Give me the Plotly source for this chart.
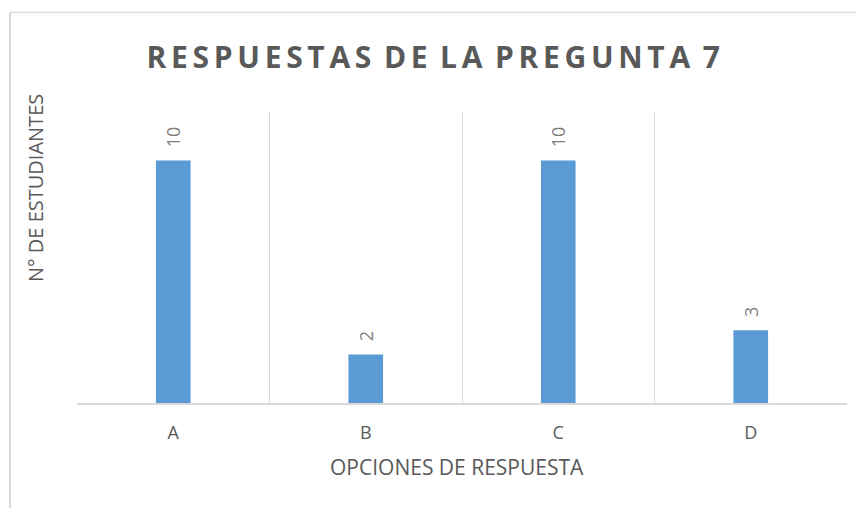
import plotly.graph_objects as go

categories = ["A", "B", "C", "D"]
values = [10, 2, 10, 3]
title_text = "RESPUESTAS DE LA PREGUNTA 7"
y_title = "N° DE ESTUDIANTES"
x_title = "OPCIONES DE RESPUESTA"

# The page body adds an 8px offset, so figure coords = reference coords - 8
OFF = 8
W, H = 864, 508
L, R, T, B = 69, 25, 104, 113
pw = W - L - R
ph = H - T - B

def px_x(x):
    return (x - OFF - L) / pw

def px_y(y):
    return (H - B - (y - OFF)) / ph

fig = go.Figure(go.Bar(
    x=categories, y=values,
    marker=dict(color="#5B9BD5", line=dict(width=0)),
    hoverinfo="skip",
))

annotations = []
for c, v in zip(categories, values):
    annotations.append(dict(
        text=str(v), x=c, y=v, xref="x", yref="y",
        textangle=-90, showarrow=False, xanchor="center", yanchor="bottom",
        yshift=11,
        font=dict(family="Open Sans", size=18, color="#7F7F7F"),
    ))

annotations += [
    dict(text=y_title, x=px_x(35), y=px_y(188), xref="paper", yref="paper",
         textangle=-90, showarrow=False, xanchor="center", yanchor="middle",
         font=dict(family="Open Sans", size=20, color="#595959")),
    dict(text=x_title, x=px_x(457), y=px_y(467), xref="paper", yref="paper",
         showarrow=False, xanchor="center", yanchor="middle",
         font=dict(family="Open Sans", size=21, color="#595959")),
]

styled_title = " ".join(
    '<span style="letter-spacing:4.7px">' + w + '</span>' for w in title_text.split(" ")
)

fig.update_layout(
    width=W, height=H,
    margin=dict(l=L, r=R, t=T, b=B),
    paper_bgcolor="white", plot_bgcolor="white",
    showlegend=False,
    bargap=0.82,
    title=dict(
        text=styled_title,
        x=(433.5 - OFF + 2) / W, xref="container", xanchor="center",
        y=1 - (57.5 - OFF) / H, yref="container", yanchor="middle",
        font=dict(family="Open Sans", size=30, color="#595959", weight="bold"),
    ),
    xaxis=dict(
        type="category",
        tickson="boundaries",
        showgrid=True, gridcolor="#D9D9D9", gridwidth=1,
        showline=True, linecolor="#D9D9D9", linewidth=1.5,
        ticks="", ticklabelstandoff=13,
        tickfont=dict(family="Open Sans", size=18, color="#595959"),
        zeroline=False,
    ),
    yaxis=dict(
        range=[0, 12],
        showgrid=False, showticklabels=False, zeroline=False, showline=False,
        ticks="",
    ),
    annotations=annotations,
    shapes=[
        dict(type="line", xref="paper", yref="paper",
             x0=px_x(10), x1=px_x(900), y0=px_y(12.3), y1=px_y(12.3),
             line=dict(color="#D9D9D9", width=1.2), layer="below"),
        dict(type="line", xref="paper", yref="paper",
             x0=px_x(10), x1=px_x(10), y0=px_y(12.3), y1=px_y(540),
             line=dict(color="#D9D9D9", width=2), layer="below"),
    ],
)

fig.write_html("out.html")
